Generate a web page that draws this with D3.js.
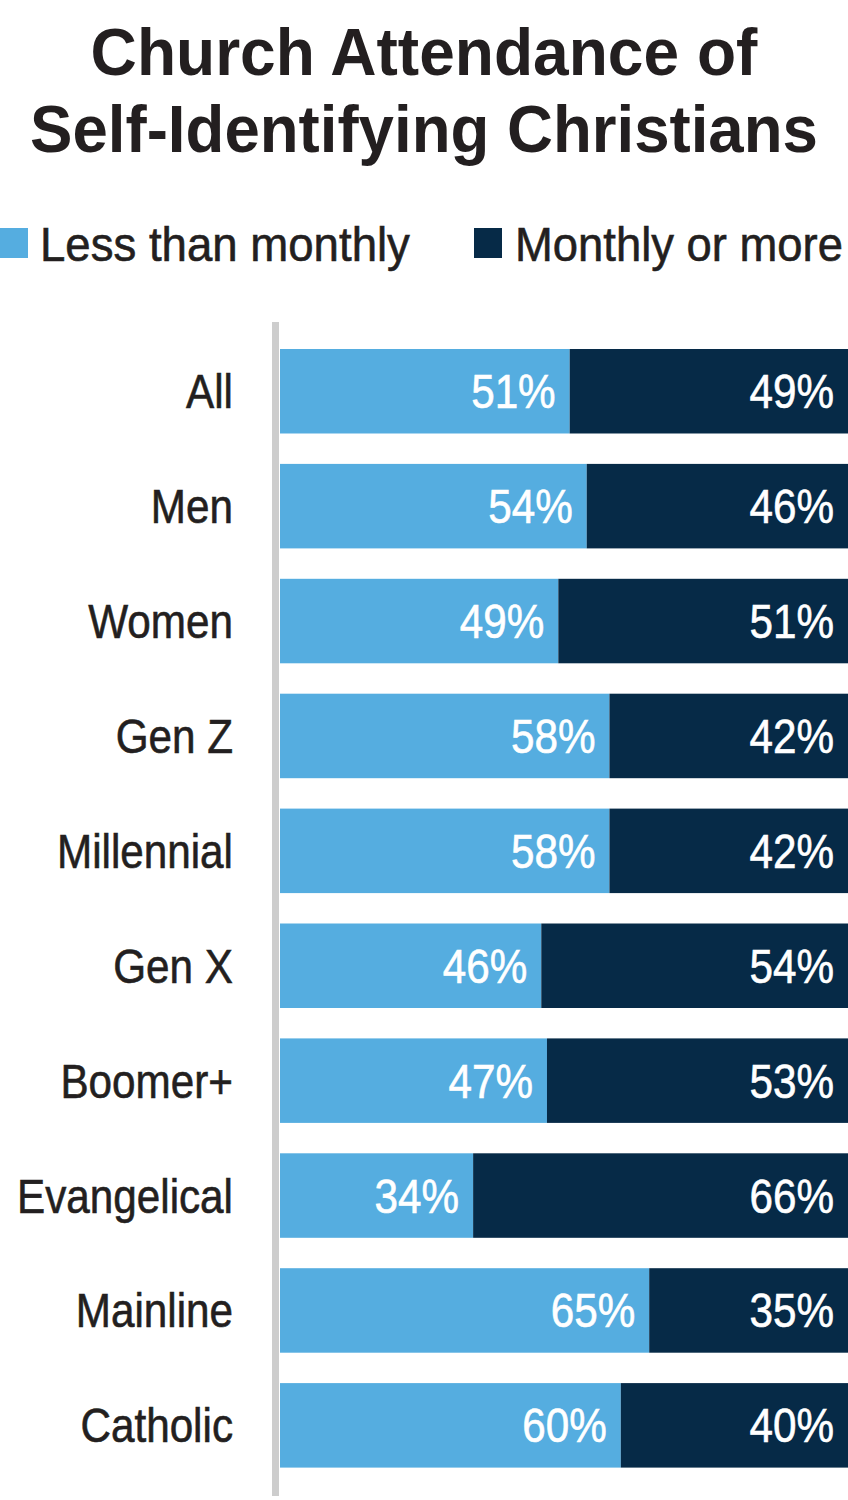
<!DOCTYPE html>
<html><head><meta charset="utf-8">
<script src="https://cdn.jsdelivr.net/npm/d3@7"></script>
<style>
html,body{margin:0;padding:0;background:#fff;}
svg{display:block;}
text{font-family:"Liberation Sans",Arial,Helvetica,sans-serif;}
</style></head>
<body>
<script>
const categories = ["All","Men","Women","Gen Z","Millennial","Gen X","Boomer+","Evangelical","Mainline","Catholic"];
const lessThanMonthly = [51,54,49,58,58,46,47,34,65,60];
const monthlyOrMore   = [49,46,51,42,42,54,53,66,35,40];
const seriesNames = ["Less than monthly","Monthly or more"];
const titleLines = ["Church Attendance of","Self-Identifying Christians"];

const W = 848, H = 1500;
const colors = ["#55ADE0","#062A47"];
const ink = "#231F20";
const SX = 0.88; // horizontal condensing of label text
const svg = d3.select("body").append("svg").attr("width",W).attr("height",H);

// place a text so that it spans a target width (horizontal scale only)
function fitText(parent, str, x0, baseline, width, size, weight, anchor){
  const grp = parent.append("g");
  const t = grp.append("text").attr("font-size",size).attr("font-weight",weight||"normal")
    .attr("fill",ink).attr("text-anchor",anchor||"start").text(str);
  if(weight!=="bold") t.attr("stroke",ink).attr("stroke-width",0.6);
  const natural = t.node().getComputedTextLength();
  grp.attr("transform",`translate(${x0},${baseline}) scale(${width/natural},1)`);
  return grp;
}

// title
const titleW = [667,788];
titleLines.forEach((s,i)=>fitText(svg, s, W/2, 75+i*77, titleW[i], 66, "bold", "middle"));

// legend
const legX = [0,474], legTextX=[40,515], legW=[370,328];
seriesNames.forEach((s,i)=>{
  svg.append("rect").attr("x",legX[i]).attr("y",228).attr("width",28).attr("height",30).attr("fill",colors[i]);
  fitText(svg, s, legTextX[i], 261, legW[i], 48, "normal", "start");
});

const x = d3.scaleLinear().domain([0,100]).range([280,848]);
const y = d3.scaleBand().domain(categories).range([349,1467.6]).paddingInner(0.2646).paddingOuter(0);

const data = categories.map((c,i)=>({cat:c, vals:[lessThanMonthly[i],monthlyOrMore[i]]}));
const stacked = d3.stack().keys([0,1]).value((d,k)=>d.vals[k])(data);

const g = svg.append("g");
stacked.forEach((layer,k)=>{
  g.append("g").selectAll("rect").data(layer).join("rect")
    .attr("x",d=>x(d[0])).attr("width",d=>x(d[1])-x(d[0]))
    .attr("y",d=>y(d.data.cat)).attr("height",y.bandwidth())
    .attr("fill",colors[k]);
  g.append("g").selectAll("g").data(layer).join("g")
    .attr("transform",d=>`translate(${x(d[1])-14},${y(d.data.cat)+y.bandwidth()/2+17}) scale(${SX},1)`)
    .append("text")
    .attr("text-anchor","end").attr("font-size",48).attr("fill","#fff")
    .attr("stroke","#fff").attr("stroke-width",0.6)
    .text(d=>(d[1]-d[0])+"%");
});

// category labels
svg.append("g").selectAll("g").data(categories).join("g")
  .attr("transform",d=>`translate(233,${y(d)+y.bandwidth()/2+17}) scale(${SX},1)`)
  .append("text")
  .attr("text-anchor","end").attr("font-size",48).attr("fill",ink)
  .attr("stroke",ink).attr("stroke-width",0.6)
  .text(d=>d);

// axis line
svg.append("rect").attr("x",272).attr("y",322).attr("width",7).attr("height",1174).attr("fill","#CDCDCD");
</script>
</body></html>
